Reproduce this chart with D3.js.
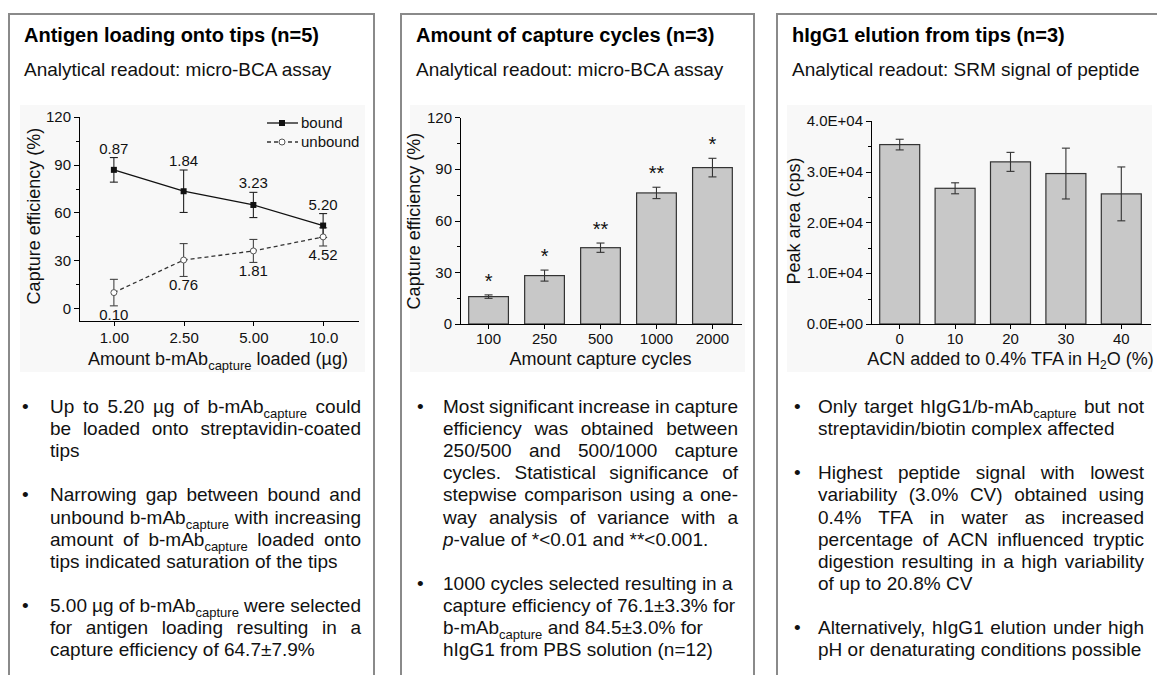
<!DOCTYPE html>
<html lang="en">
<head>
<meta charset="UTF-8">
<title>Capture tips optimisation</title>
<script src="https://d3js.org/d3.v7.min.js"></script>
<style>
  body { margin: 0; background: white; overflow: hidden; }
  svg { display: block; font-family: "Liberation Sans", Arial, sans-serif; }
  .axis path, .axis line { stroke: #000; shape-rendering: crispEdges; }
  .axis text { font-size: 15px; fill: #111; font-family: "Liberation Sans", Arial, sans-serif; }
  .body { font-size: 19px; fill: #111; }
  .atitle { font-size: 18px; fill: #111; }
</style>
</head>
<body>
<div id="chart"></div>
<script>
// panel 1 : antigen loading
const loadAmounts = ["1.00", "2.50", "5.00", "10.0"]
const boundMean = [86.7, 73.3, 64.7, 51.8]
const boundErr = [7.7, 13.3, 7.9, 7.5]
const boundLabels = ["0.87", "1.84", "3.23", "5.20"]
const unboundMean = [9.8, 30.2, 35.9, 44.7]
const unboundErr = [8.3, 10.3, 7.2, 5.7]
const unboundLabels = ["0.10", "0.76", "1.81", "4.52"]

// panel 2 : capture cycles
const cycles = ["100", "250", "500", "1000", "2000"]
const cycleMean = [15.9, 28.1, 44.3, 76.1, 90.8]
const cycleErr = [1.0, 3.2, 2.7, 3.3, 5.4]
const cycleSig = ["*", "*", "**", "**", "*"]

// panel 3 : elution
const acnLevels = ["0", "10", "20", "30", "40"]
const peakMean = [35300, 26700, 31900, 29600, 25600]
const peakErr = [1050, 1080, 1870, 5000, 5300]

const titles = ["Antigen loading onto tips (n=5)", "Amount of capture cycles (n=3)", "hIgG1 elution from tips (n=3)"]
const subtitles = ["Analytical readout: micro-BCA assay", "Analytical readout: micro-BCA assay", "Analytical readout: SRM signal of peptide"]

// {..} = subscript, [..] = italic
const notes1 = [
  { justify: true, lines: ["Up to 5.20 µg of b-mAb{capture} could", "be loaded onto streptavidin-coated", "tips"] },
  { justify: true, lines: ["Narrowing gap between bound and", "unbound b-mAb{capture} with increasing", "amount of b-mAb{capture} loaded onto", "tips indicated saturation of the tips"] },
  { justify: true, lines: ["5.00 µg of b-mAb{capture} were selected", "for antigen loading resulting in a", "capture efficiency of 64.7±7.9%"] }
]
const notes2 = [
  { justify: true, lines: ["Most significant increase in capture", "efficiency was obtained between", "250/500 and 500/1000 capture", "cycles. Statistical significance of", "stepwise comparison using a one-", "way analysis of variance with a", "[p]-value of *<0.01 and **<0.001."] },
  { justify: false, lines: ["1000 cycles selected resulting in a", "capture efficiency of 76.1±3.3% for", "b-mAb{capture} and 84.5±3.0% for", "hIgG1 from PBS solution (n=12)"] }
]
const notes3 = [
  { justify: true, lines: ["Only target hIgG1/b-mAb{capture} but not", "streptavidin/biotin complex affected"] },
  { justify: true, lines: ["Highest peptide signal with lowest", "variability (3.0% CV) obtained using", "0.4% TFA in water as increased", "percentage of ACN influenced tryptic", "digestion resulting in a high variability", "of up to 20.8% CV"] },
  { justify: true, lines: ["Alternatively, hIgG1 elution under high", "pH or denaturating conditions possible"] }
]

const width = 1157
const height = 675

const svg = d3.select("#chart")
  .append("svg")
  .attr("width", width)
  .attr("height", height)

// panel frames
const panels = [
  { x0: 9, x1: 374, bg: [20, 365] },
  { x0: 401, x1: 754, bg: [410, 745] },
  { x0: 777, x1: 1175, bg: [787, 1152] }
]

panels.forEach((p, i) => {
  svg.append("rect")
    .attr("x", p.bg[0]).attr("y", 105)
    .attr("width", p.bg[1] - p.bg[0]).attr("height", 267)
    .attr("fill", "#f8f8f8")
  svg.append("rect")
    .attr("x", p.x0).attr("y", 14)
    .attr("width", p.x1 - p.x0).attr("height", 700)
    .attr("fill", "none")
    .attr("stroke", "#8a8a8a")
    .attr("stroke-width", 2)
  svg.append("text")
    .attr("x", p.x0 + 15).attr("y", 42)
    .attr("font-size", "20px").attr("font-weight", "bold").attr("fill", "#000")
    .text(titles[i])
  svg.append("text")
    .attr("x", p.x0 + 15).attr("y", 76)
    .attr("font-size", "19px").attr("fill", "#111")
    .text(subtitles[i])
})

// rich text helper
function addRich(t, str, subSize, shift) {
  const re = /\{([^}]*)\}|\[([^\]]*)\]|([^{\[]+)/g
  let m, down = false
  while ((m = re.exec(str)) !== null) {
    const ts = t.append("tspan")
    if (m[1] !== undefined) {
      ts.attr("font-size", subSize + "px").attr("dy", shift).text(m[1])
      down = true
    } else {
      if (down) { ts.attr("dy", -shift); down = false }
      if (m[2] !== undefined) ts.attr("font-style", "italic").text(m[2])
      else ts.text(m[3])
    }
  }
}

const lineH = 22.1
function drawNotes(paras, bulletX, left, right) {
  const g = svg.append("g")
  let y = 413
  paras.forEach(p => {
    g.append("text").attr("class", "body").attr("x", bulletX).attr("y", y).text("•")
    p.lines.forEach((line, i) => {
      const words = line.split(" ")
      const nodes = words.map(w => {
        const t = g.append("text").attr("class", "body").attr("y", y)
        addRich(t, w, 13, 5)
        return t
      })
      const widths = nodes.map(n => n.node().getComputedTextLength())
      const total = d3.sum(widths)
      const justify = p.justify && i < p.lines.length - 1
      const gap = justify ? (right - left - total) / (words.length - 1) : 5.3
      let x = left
      nodes.forEach((n, k) => { n.attr("x", x); x += widths[k] + gap })
      y += lineH
    })
    y += lineH
  })
}

drawNotes(notes1, 22, 50, 361)
drawNotes(notes2, 417, 443, 738)
drawNotes(notes3, 794, 818, 1144)

// ---------- chart 1 ----------
const x1 = d3.scalePoint().domain(loadAmounts).range([79, 358]).padding(0.5)
const y1 = d3.scaleLinear().domain([-8, 120]).range([321, 116.7])

svg.append("g").attr("class", "axis")
  .attr("transform", "translate(0,321)")
  .call(d3.axisBottom(x1).tickSize(5).tickSizeOuter(0).tickPadding(6))
svg.append("g").attr("class", "axis")
  .attr("transform", "translate(79,0)")
  .call(d3.axisLeft(y1).tickValues([0, 30, 60, 90, 120]).tickSize(5).tickSizeOuter(0).tickPadding(3))
svg.append("g").attr("class", "axis")
  .attr("transform", "translate(79,0)")
  .call(d3.axisLeft(y1).tickValues([15, 45, 75, 105]).tickSize(3).tickSizeOuter(0).tickFormat(""))

svg.append("text").attr("class", "atitle")
  .attr("transform", "translate(40,216) rotate(-90)")
  .attr("text-anchor", "middle")
  .text("Capture efficiency (%)")

const xt1 = svg.append("text").attr("class", "atitle")
  .attr("x", 218).attr("y", 365).attr("text-anchor", "middle")
addRich(xt1, "Amount b-mAb{capture} loaded (µg)", 13, 5)

const lineGen = d3.line().x(d => x1(d[0])).y(d => y1(d[1]))
svg.append("path")
  .datum(loadAmounts.map((a, i) => [a, unboundMean[i]]))
  .attr("d", lineGen).attr("fill", "none")
  .attr("stroke", "#333").attr("stroke-width", 1.3).attr("stroke-dasharray", "4,3")
svg.append("path")
  .datum(loadAmounts.map((a, i) => [a, boundMean[i]]))
  .attr("d", lineGen).attr("fill", "none")
  .attr("stroke", "#111").attr("stroke-width", 1.3)

function errBars(g, xs, means, errs, yScale, color) {
  const eb = g.selectAll(null).data(xs).enter().append("g")
    .attr("stroke", color).attr("stroke-width", 1.1)
  eb.append("line")
    .attr("x1", d => d.x).attr("x2", d => d.x)
    .attr("y1", (d, i) => yScale(means[i] + errs[i]))
    .attr("y2", (d, i) => yScale(means[i] - errs[i]))
  eb.append("line")
    .attr("x1", d => d.x - 4).attr("x2", d => d.x + 4)
    .attr("y1", (d, i) => yScale(means[i] + errs[i]))
    .attr("y2", (d, i) => yScale(means[i] + errs[i]))
  eb.append("line")
    .attr("x1", d => d.x - 4).attr("x2", d => d.x + 4)
    .attr("y1", (d, i) => yScale(means[i] - errs[i]))
    .attr("y2", (d, i) => yScale(means[i] - errs[i]))
}

const pts1 = loadAmounts.map(a => ({ x: x1(a) }))
errBars(svg.append("g"), pts1, unboundMean, unboundErr, y1, "#444")
errBars(svg.append("g"), pts1, boundMean, boundErr, y1, "#222")

svg.selectAll(".ub").data(loadAmounts).enter().append("circle")
  .attr("cx", d => x1(d)).attr("cy", (d, i) => y1(unboundMean[i]))
  .attr("r", 3).attr("fill", "white").attr("stroke", "#555").attr("stroke-width", 1)
svg.selectAll(".bd").data(loadAmounts).enter().append("rect")
  .attr("x", d => x1(d) - 3).attr("y", (d, i) => y1(boundMean[i]) - 3)
  .attr("width", 6).attr("height", 6).attr("fill", "#111")

svg.selectAll(".bl").data(boundLabels).enter().append("text")
  .attr("x", (d, i) => x1(loadAmounts[i])).attr("y", (d, i) => y1(boundMean[i] + boundErr[i]) - 4)
  .attr("text-anchor", "middle").attr("font-size", "15px").attr("fill", "#111")
  .text(d => d)
svg.selectAll(".ul").data(unboundLabels).enter().append("text")
  .attr("x", (d, i) => x1(loadAmounts[i])).attr("y", (d, i) => y1(unboundMean[i] - unboundErr[i]) + 14)
  .attr("text-anchor", "middle").attr("font-size", "15px").attr("fill", "#111")
  .text(d => d)

// legend
const leg = svg.append("g")
leg.append("line").attr("x1", 267).attr("x2", 298).attr("y1", 123).attr("y2", 123)
  .attr("stroke", "#111").attr("stroke-width", 1.3)
leg.append("rect").attr("x", 279).attr("y", 120).attr("width", 6).attr("height", 6).attr("fill", "#111")
leg.append("text").attr("x", 301).attr("y", 128).attr("font-size", "15px").attr("fill", "#111").text("bound")
leg.append("line").attr("x1", 267).attr("x2", 298).attr("y1", 142).attr("y2", 142)
  .attr("stroke", "#333").attr("stroke-width", 1.3).attr("stroke-dasharray", "4,3")
leg.append("circle").attr("cx", 282).attr("cy", 142).attr("r", 3)
  .attr("fill", "white").attr("stroke", "#555")
leg.append("text").attr("x", 301).attr("y", 147).attr("font-size", "15px").attr("fill", "#111").text("unbound")

// ---------- bar charts ----------
function barChart(cfg) {
  const x = d3.scaleBand().domain(cfg.cats).range(cfg.xr)
    .paddingInner(cfg.pi).paddingOuter(cfg.po)
  const y = d3.scaleLinear().domain(cfg.yd).range([324, cfg.yTop])

  svg.append("g").selectAll("rect").data(cfg.cats).enter().append("rect")
    .attr("x", d => x(d)).attr("width", x.bandwidth())
    .attr("y", (d, i) => y(cfg.mean[i]))
    .attr("height", (d, i) => 324 - y(cfg.mean[i]))
    .attr("fill", "#c8c8c8").attr("stroke", "#333").attr("stroke-width", 1.2)

  errBars(svg.append("g"), cfg.cats.map(c => ({ x: x(c) + x.bandwidth() / 2 })), cfg.mean, cfg.err, y, "#333")

  svg.append("g").attr("class", "axis")
    .attr("transform", "translate(0,324)")
    .call(d3.axisBottom(x).tickSize(5).tickSizeOuter(0).tickPadding(4))
  svg.append("g").attr("class", "axis")
    .attr("transform", `translate(${cfg.xr[0]},0)`)
    .call(d3.axisLeft(y).tickValues(cfg.ticks).tickSize(5).tickSizeOuter(0).tickPadding(3).tickFormat(cfg.fmt))
  svg.append("g").attr("class", "axis")
    .attr("transform", `translate(${cfg.xr[0]},0)`)
    .call(d3.axisLeft(y).tickValues(cfg.minor).tickSize(3).tickSizeOuter(0).tickFormat(""))

  svg.append("text").attr("class", "atitle")
    .attr("transform", `translate(${cfg.yLabelX},221) rotate(-90)`)
    .attr("text-anchor", "middle")
    .text(cfg.yLabel)
  const xt = svg.append("text").attr("class", "atitle")
    .attr("x", (cfg.xr[0] + cfg.xr[1]) / 2).attr("y", 365).attr("text-anchor", "middle")
  addRich(xt, cfg.xLabel, 12, 4)
  return { x, y }
}

const c2 = barChart({
  cats: cycles, mean: cycleMean, err: cycleErr,
  xr: [460, 741], pi: 0.29, po: 0.155,
  yd: [0, 120], yTop: 117.3,
  ticks: [0, 30, 60, 90, 120], minor: [15, 45, 75, 105], fmt: d3.format("d"),
  yLabel: "Capture efficiency (%)", yLabelX: 420,
  xLabel: "Amount capture cycles"
})

svg.selectAll(".sig").data(cycleSig).enter().append("text")
  .attr("x", (d, i) => c2.x(cycles[i]) + c2.x.bandwidth() / 2)
  .attr("y", (d, i) => c2.y(cycleMean[i] + cycleErr[i]) - 7)
  .attr("text-anchor", "middle").attr("font-size", "20px").attr("fill", "#111")
  .text(d => d)

const sciFmt = d => {
  const [m, e] = d.toExponential(1).split("e")
  return m + "E" + e[0] + e.slice(1).padStart(2, "0")
}

barChart({
  cats: acnLevels, mean: peakMean, err: peakErr,
  xr: [871, 1150], pi: 0.278, po: 0.157,
  yd: [0, 40000], yTop: 120.7,
  ticks: [0, 10000, 20000, 30000, 40000], minor: [5000, 15000, 25000, 35000], fmt: sciFmt,
  yLabel: "Peak area (cps)", yLabelX: 800,
  xLabel: "ACN added to 0.4% TFA in H{2}O (%)"
})
</script>
</body>
</html>
